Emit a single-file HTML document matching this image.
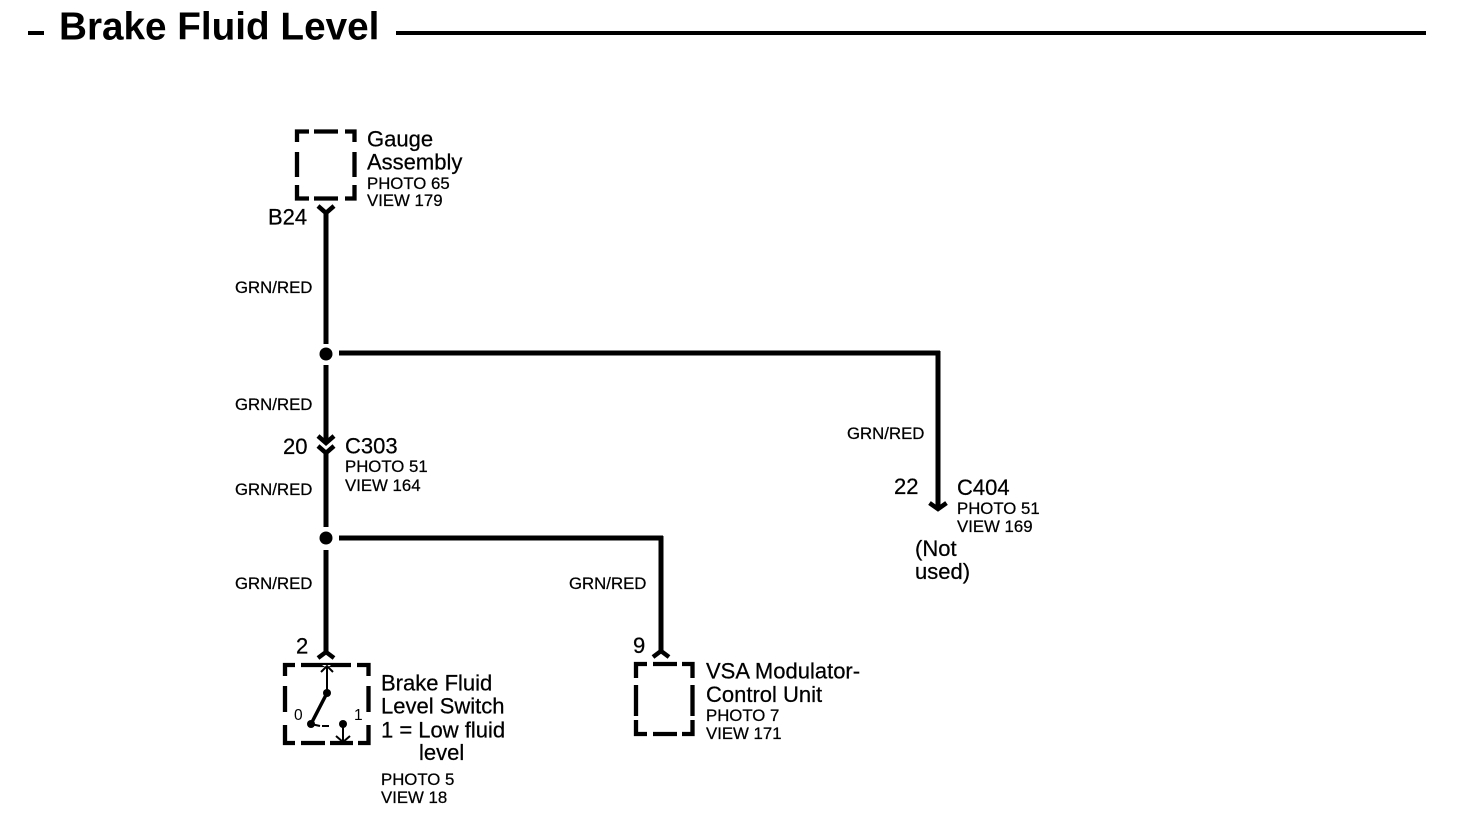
<!DOCTYPE html>
<html>
<head>
<meta charset="utf-8">
<style>
html,body{margin:0;padding:0;background:#fff;width:1472px;height:828px;overflow:hidden}
svg{display:block}
text{font-family:"Liberation Sans",sans-serif;fill:#000;stroke:#000;stroke-width:.25}
.l{font-size:22px}
.s{font-size:16.8px}
.w{stroke:#000;stroke-width:5;fill:none}
.b{stroke:#000;stroke-width:4.300;fill:none}
.t{stroke:#000;stroke-width:2;fill:none}
</style>
</head>
<body>
<svg width="1472" height="828" viewBox="0 0 1472 828" xmlns="http://www.w3.org/2000/svg">
<!-- title -->
<rect x="28" y="31" width="16" height="4" fill="#000"/>
<rect x="396" y="31" width="1030" height="4" fill="#000"/>
<text x="59" y="39.500" font-size="38.700" font-weight="bold" style="stroke-width:0">Brake Fluid Level</text>

<!-- gauge box -->
<path class="b" d="M297 142V131.500H309M314 131.500H338M345 131.500H354.500V142M297 152V177M354.500 152V177M297 185V198.500H309M314 198.500H338M345 198.500H354.500V185"/>
<text class="l" x="367" y="146.500">Gauge</text>
<text class="l" x="367" y="169.500">Assembly</text>
<text class="s" x="367" y="189">PHOTO 65</text>
<text class="s" x="367" y="206">VIEW 179</text>
<text class="l" x="268" y="224.500">B24</text>
<path d="M318 206L326 213L334 206" fill="none" stroke="#000" stroke-width="4.500"/>

<!-- main wire -->
<path class="w" d="M326 211V344M326 365V443M326 452V527M326 550V653"/>
<circle cx="326" cy="354" r="6.500" fill="#000"/>
<circle cx="326" cy="538" r="6.500" fill="#000"/>
<path class="w" d="M339 353H940M938 351V508"/>
<path d="M929.500 503L938 509L946.500 503" fill="none" stroke="#000" stroke-width="4.500"/>
<path class="w" d="M339 538H663M661 536V652"/>

<!-- C303 -->
<path d="M318 436L326 443L334 436M318 446L326 453L334 446" fill="none" stroke="#000" stroke-width="4.500"/>

<!-- wire labels -->
<text class="s" x="235" y="293">GRN/RED</text>
<text class="s" x="235" y="410">GRN/RED</text>
<text class="s" x="235" y="495">GRN/RED</text>
<text class="s" x="235" y="589">GRN/RED</text>
<text class="s" x="569" y="589">GRN/RED</text>
<text class="s" x="847" y="439">GRN/RED</text>

<text class="l" x="283" y="454">20</text>
<text class="l" x="345" y="453.500">C303</text>
<text class="s" x="345" y="472">PHOTO 51</text>
<text class="s" x="345" y="491">VIEW 164</text>

<text class="l" x="894" y="494">22</text>
<text class="l" x="957" y="495">C404</text>
<text class="s" x="957" y="514">PHOTO 51</text>
<text class="s" x="957" y="532">VIEW 169</text>
<text class="l" x="915" y="556">(Not</text>
<text class="l" x="915" y="579">used)</text>

<!-- switch -->
<text class="l" x="296" y="653.500">2</text>
<path d="M318 658L326 652L334 658" fill="none" stroke="#000" stroke-width="4.500"/>
<path class="b" d="M285 676V665H295M301 665H351M357 665H368.500V676M285 686V712M368.500 686V712M285 725V743H295M301 743H325M330 743H353M358 743H368.500V725"/>
<path d="M322 665H331L327 668Z" fill="#fff"/>
<path class="t" d="M327 694V666M321 672L327 666L333 672M343 724V743M336 736L343 742L350 736"/>
<path d="M327 693L311 724" stroke="#000" stroke-width="3.500" fill="none"/>
<path d="M311 724L320 726M322 726H329" stroke="#000" stroke-width="2" fill="none"/>
<circle cx="327" cy="693" r="4" fill="#000"/>
<circle cx="311" cy="724" r="4" fill="#000"/>
<circle cx="343" cy="724" r="4" fill="#000"/>
<text x="294" y="720" font-size="15.500" style="stroke-width:0">0</text>
<text x="354" y="720" font-size="15.500" style="stroke-width:0">1</text>
<text class="l" x="381" y="690.500">Brake Fluid</text>
<text class="l" x="381" y="713.500">Level Switch</text>
<text class="l" x="381" y="737.500">1 = Low fluid</text>
<text class="l" x="419" y="760">level</text>
<text class="s" x="381" y="785">PHOTO 5</text>
<text class="s" x="381" y="803">VIEW 18</text>

<!-- VSA -->
<text class="l" x="633" y="653">9</text>
<path d="M653 657L661 651L669 657" fill="none" stroke="#000" stroke-width="4.500"/>
<path class="b" d="M636 678V664H647M653 664H677M682 664H692.500V678M636 685V716M692.500 685V716M636 720V734H647M653 734H677M682 734H692.500V720"/>
<text class="l" x="706" y="678.500">VSA Modulator-</text>
<text class="l" x="706" y="702">Control Unit</text>
<text class="s" x="706" y="721">PHOTO 7</text>
<text class="s" x="706" y="739">VIEW 171</text>
</svg>
</body>
</html>
